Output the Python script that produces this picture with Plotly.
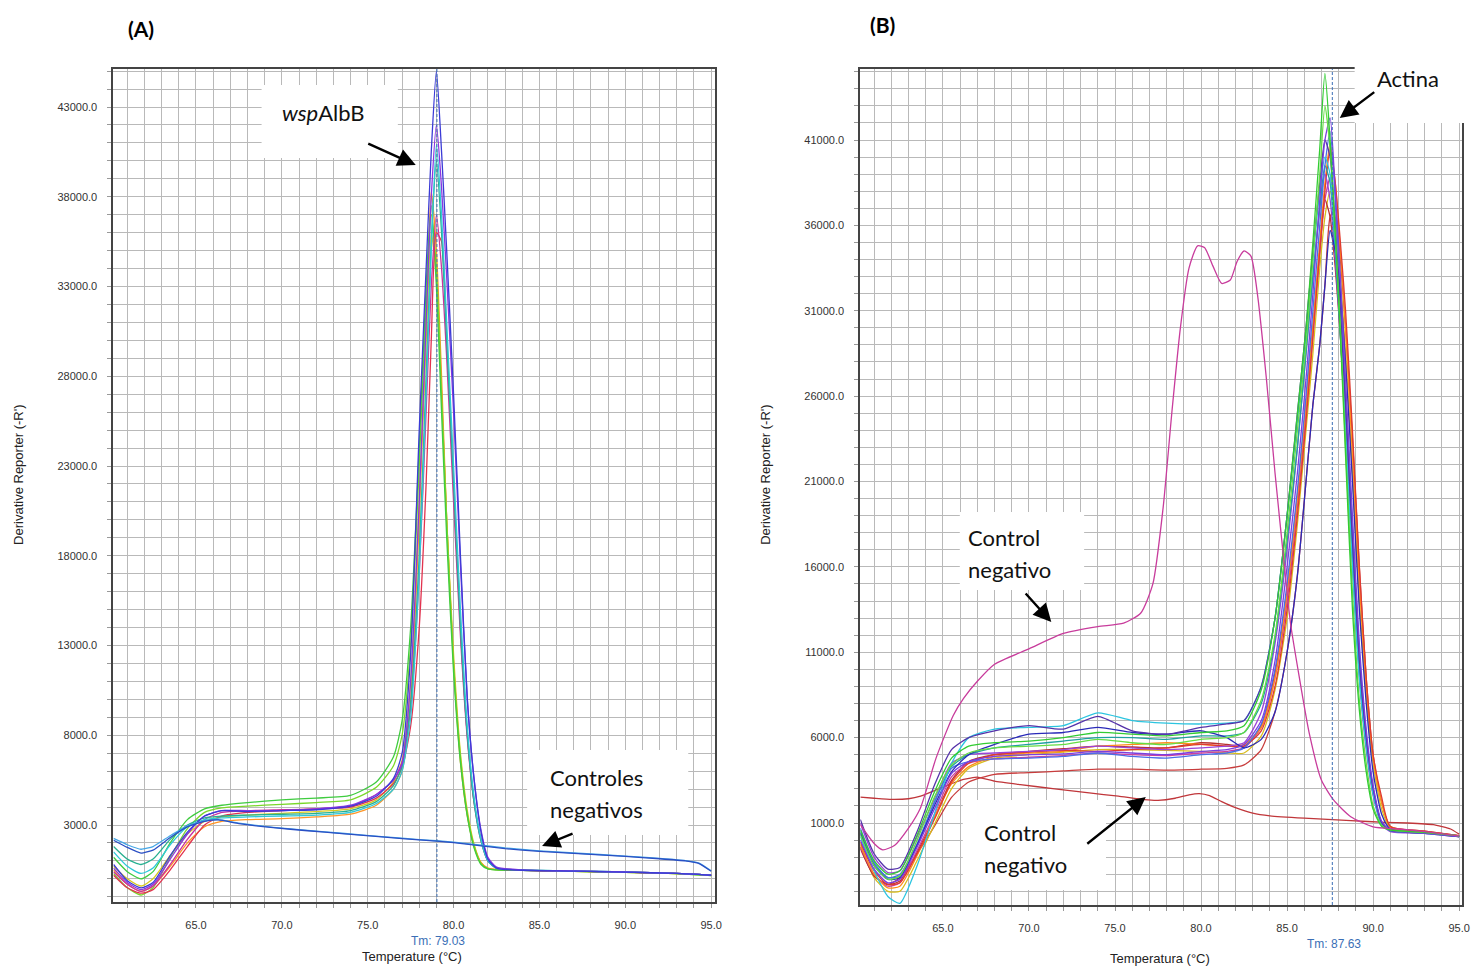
import plotly.graph_objects as go

W, H = 1483, 967

# ---------------- Panel A data (temperature grid, derivative values) ----------------
TEMP_A = [60.2, 61, 61.8, 62.5, 63.5, 64.5, 65.5, 66.5, 68, 70, 72, 74, 75.5, 76.5, 77.0, 77.5,
          78.0, 78.4, 78.7, 79.0, 79.3, 79.6, 80.0, 80.4, 80.8, 81.2, 81.6, 82.0, 82.5, 84, 87, 90, 93, 95]

A_YELLOW = [700, 0, -400, 0, 1300, 2500, 3200, 3450, 3550, 3650, 3750, 3900, 4400, 5400, 6600, 11000,
            21000, 30000, 36000, 33500, 27000, 20000, 12500, 7000, 3800, 1900, 900, 580, 520, 470, 420, 360, 290, 190]
A_ORANGE = [500, -300, -700, -400, 700, 2000, 2900, 3200, 3300, 3350, 3450, 3600, 4100, 5000, 6000, 10000,
            20000, 31000, 38300, 35000, 28000, 20000, 12000, 6500, 3500, 1800, 900, 600, 520, 470, 420, 360, 290, 190]
A_LIME = [300, -500, -900, -500, 1200, 2800, 3700, 3950, 4050, 4150, 4250, 4400, 5100, 6300, 8000, 13000,
          23000, 32000, 37000, 34000, 27000, 20000, 12000, 6800, 3600, 1800, 850, 560, 500, 470, 420, 360, 290, 180]
A_GREEN = [1200, 400, 0, 400, 2000, 3300, 3900, 4100, 4250, 4400, 4500, 4650, 5400, 6800, 8800, 14000,
           24000, 33000, 37500, 33000, 26000, 19000, 11500, 6500, 3500, 1700, 800, 550, 500, 470, 420, 360, 290, 180]
A_RED = [200, -500, -800, -600, 500, 1800, 3000, 3500, 3700, 3800, 3900, 4000, 4500, 5300, 6200, 8500,
         14000, 22000, 30000, 36000, 35500, 30000, 22000, 14000, 8000, 4300, 2200, 1000, 600, 490, 430, 370, 300, 200]
A_MAGENTA = [400, -300, -700, -400, 800, 2200, 3300, 3700, 3800, 3850, 3900, 4050, 4700, 5500, 6500, 9500,
             17000, 26000, 33000, 37000, 34000, 29000, 21000, 13500, 7800, 4200, 2100, 1000, 600, 490, 430, 370, 300, 200]
A_TEAL = [1800, 1100, 800, 1100, 2200, 3000, 3400, 3500, 3550, 3600, 3650, 3800, 4300, 5200, 6300, 9800,
          18000, 28000, 35500, 40000, 36000, 30000, 22000, 14000, 8000, 4200, 2100, 1000, 600, 500, 440, 380, 310, 210]
A_CYAN = [1500, 700, 300, 600, 1900, 2900, 3300, 3400, 3450, 3500, 3550, 3700, 4200, 5000, 6000, 9000,
          17000, 27000, 35000, 40900, 37000, 31000, 23000, 15000, 8500, 4500, 2200, 1000, 600, 500, 440, 380, 310, 210]
A_PURPLE = [600, -200, -600, -300, 1100, 2500, 3500, 3800, 3800, 3800, 3900, 4100, 4700, 5500, 6400, 11000,
            21000, 31000, 38000, 42000, 38500, 33500, 26000, 17500, 10000, 5500, 2700, 1200, 650, 500, 440, 380, 310, 210]
A_BLUE = [800, -100, -500, -200, 1300, 2600, 3500, 3800, 3750, 3800, 3850, 4050, 4600, 5600, 7000, 12500,
          25000, 34000, 40500, 45000, 40500, 35000, 27000, 18000, 10000, 5500, 2600, 1100, 600, 480, 430, 370, 300, 200]

TEMP_A_NEG = [60.2, 61, 61.8, 62.5, 63.5, 64.5, 65.5, 66.3, 67.5, 69.5, 71.5, 73.5, 76, 78, 80, 83, 85,
              87, 90, 92, 93.5, 94.3, 95]
A_NEG_1 = [2150, 1750, 1430, 1600, 2300, 2900, 3200, 3280, 3080, 2850, 2680, 2520, 2320, 2170, 2020, 1680,
           1530, 1420, 1250, 1120, 1000, 850, 420]
A_NEG_2 = [2250, 1900, 1650, 1800, 2400, 2950, 3230, 3300, 3100, 2870, 2700, 2540, 2340, 2190, 2050, 1720,
           1560, 1440, 1270, 1140, 1020, 880, 450]

TM_A = 79.03

# ---------------- Panel B data ----------------
TEMP_B = [60.2, 61, 61.8, 62.5, 63.5, 64.5, 65.5, 66.5, 68, 70, 72, 74, 76, 78, 80, 81.5, 82.5, 83.5,
          84.3, 85, 85.6, 86.1, 86.5, 86.9, 87.2, 87.5, 87.8, 88.1, 88.4, 88.8, 89.2, 89.6, 90.0, 90.5, 91, 93, 95]

B_REDLOW = [-400, -2100, -2600, -2200, -800, 800, 2500, 3400, 3850, 3950, 4050, 4150, 4150, 4100, 4150, 4200, 4400, 5300,
            7500, 11000, 15500, 21000, 25500, 29000, 32500, 36500, 37000, 34000, 30000, 23500, 16000, 9500, 5000, 2200, 800, 520, 260]
B_YELLOW = [-200, -2200, -3000, -3000, -1200, 900, 3000, 4200, 4800, 5000, 5150, 5300, 5300, 5250, 5200, 5100, 5100, 6100,
            8800, 13000, 18500, 24000, 28500, 33500, 36500, 38000, 36500, 33000, 28500, 21500, 14000, 8500, 4500, 1800, 700, 480, 240]
B_DARKRED = [-500, -2100, -2600, -2400, -700, 1300, 3500, 4600, 5000, 5200, 5350, 5500, 5450, 5400, 5700, 5600, 5500, 6700,
             9800, 14500, 20000, 25500, 30000, 34500, 37500, 36500, 33500, 29500, 24500, 17000, 10000, 5800, 2900, 1000, 550, 420, 220]
B_MAGENTA = [-400, -2000, -2700, -2500, -600, 1500, 3700, 4500, 4750, 4850, 4950, 5100, 5000, 4950, 5100, 5200, 5400, 6600,
             9500, 14000, 19500, 25000, 29500, 34500, 37500, 38800, 35500, 31000, 25500, 17500, 10500, 6000, 3000, 1000, 550, 400, 200]
B_ORANGE = [-300, -2000, -2800, -2700, -900, 1300, 3300, 4300, 4900, 5100, 5200, 5500, 5600, 5700, 5600, 5500, 5600, 6600,
            9500, 14500, 20000, 25500, 30000, 35000, 38500, 40800, 38500, 34500, 30000, 22500, 15000, 9000, 4800, 2200, 800, 500, 250]
B_RED = [-100, -1800, -2600, -2500, -800, 1200, 3400, 4500, 5000, 5150, 5250, 5200, 5300, 5400, 5600, 5500, 5500, 6400,
         9000, 13500, 19000, 24500, 29500, 34500, 38000, 40500, 38500, 35000, 31000, 24000, 16000, 9500, 5000, 2500, 800, 520, 260]
B_PURPLE2 = [1000, -1000, -1900, -1800, 200, 2400, 4500, 5000, 5100, 5200, 5300, 5500, 5400, 5300, 5400, 5500, 5700, 7500,
             11500, 17000, 23000, 28500, 33000, 37000, 39000, 37500, 34000, 29500, 24000, 16000, 9500, 5300, 2600, 900, 500, 400, 200]
B_TEAL = [500, -1400, -2200, -2100, -300, 2200, 4300, 5000, 5400, 5600, 5800, 6000, 6000, 5900, 6100, 6100, 6300, 8000,
          11800, 17500, 23000, 28500, 33000, 37000, 39500, 38500, 34500, 29500, 24000, 16500, 9800, 5600, 2800, 1000, 550, 420, 210]
B_BLUE = [700, -1300, -2200, -2000, -200, 2200, 4200, 4600, 4750, 4800, 4900, 5100, 4900, 4800, 5000, 5100, 5400, 6800,
          10000, 15000, 20500, 26000, 31000, 36000, 39500, 41500, 37500, 32000, 26000, 18000, 11000, 6200, 3000, 1000, 550, 400, 200]
B_DARKBLUE = [400, -1500, -2300, -2200, -300, 2000, 4000, 5000, 5600, 6200, 6300, 6600, 6300, 6200, 6400, 6000, 5400, 5900,
              7500, 11000, 15500, 21000, 25500, 29000, 32500, 35700, 34500, 32000, 28000, 21000, 13500, 8000, 4000, 1500, 650, 450, 220]
B_CYAN = [200, -1800, -3300, -3700, -1500, 1500, 4500, 6000, 6500, 6600, 6700, 7450, 7000, 6850, 6800, 6850, 7000, 9000,
          13000, 19000, 24500, 29500, 34000, 38000, 40000, 39000, 35000, 30000, 24000, 16000, 9500, 5500, 2700, 950, 550, 420, 210]
B_INDIGO = [1200, -800, -1700, -1600, 500, 3200, 5300, 6000, 6400, 6700, 6500, 7250, 6400, 6200, 6600, 6800, 7000, 9000,
            13000, 19000, 25000, 30000, 34500, 38500, 41000, 40000, 36000, 31000, 25500, 17500, 10500, 6000, 3000, 1000, 550, 420, 200]
B_PURPLE = [0, -1700, -2500, -2300, -400, 1800, 3900, 4600, 4900, 5000, 5050, 5200, 5100, 5000, 5200, 5300, 5600, 7000,
            10500, 16000, 21500, 27000, 32000, 37500, 41000, 42300, 38000, 33000, 27000, 19000, 11500, 6500, 3200, 1100, 600, 420, 200]
B_LIME = [300, -1500, -2300, -2100, 0, 2500, 4400, 5100, 5400, 5500, 5600, 5900, 5700, 5600, 5900, 6000, 6300, 8200,
          12000, 18000, 24000, 29000, 34000, 39000, 43000, 40500, 35500, 30000, 23000, 14500, 8200, 4500, 2000, 850, 600, 450, 250]
B_GREEN = [600, -1200, -2000, -1800, 300, 2800, 4800, 5500, 5700, 5800, 6000, 6300, 6200, 6100, 6300, 6400, 6700, 8800,
           13000, 19000, 25000, 30000, 35000, 40500, 44900, 41000, 35500, 29500, 22500, 13500, 7600, 4000, 1800, 800, 600, 450, 250]

TEMP_B_CTRL1 = [60.2, 61, 61.5, 62.2, 63, 63.7, 64.6, 65.6, 66.2, 67, 68, 70, 72, 74, 75.5, 76.5, 77.2, 77.8, 78.3,
                78.8, 79.3, 79.8, 80.2, 80.7, 81.2, 81.7, 82.1, 82.5, 82.9, 83.3, 83.8, 84.3, 84.8, 85.2, 85.7,
                86.3, 87.0, 87.7, 88.7, 90.0, 91.5, 93, 95]
B_CTRL_1 = [900, -200, -570, -300, 700, 1900, 4800, 7300, 8300, 9300, 10300, 11200, 12100, 12500, 12700, 13300,
            15000, 19500, 25000, 30000, 33500, 34800, 34700, 33600, 32600, 32800, 33900, 34500, 34200, 31800,
            27000, 21500, 16500, 12700, 9600, 6200, 3500, 2350, 1370, 780, 650, 500, 250]

TEMP_B_CTRL2 = [60.2, 61, 62, 63, 63.7, 65, 66.2, 67, 68, 69.5, 71.5, 73.5, 75.2, 76.7, 77.5, 78.5, 79.3,
                79.9, 80.5, 81.2, 82, 83, 84, 86, 88.7, 90.7, 92, 93.5, 94.5, 95]
B_CTRL_2 = [2510, 2450, 2380, 2420, 2570, 3100, 3550, 3690, 3450, 3250, 3000, 2760, 2570, 2370, 2330, 2450, 2650,
            2720, 2600, 2250, 1900, 1580, 1420, 1280, 1140, 1040, 1000, 900, 650, 350]

TM_B = 87.63

# ---------------- styling ----------------
SERIES_A = [
    (A_YELLOW, '#d6c91e'), (A_ORANGE, '#ff9526'), (A_LIME, '#7ad82a'), (A_GREEN, '#3fcc3f'),
    (A_RED, '#e2334f'), (A_MAGENTA, '#c9329e'), (A_TEAL, '#28b090'), (A_CYAN, '#2ec8d8'),
    (A_PURPLE, '#8b35e0'), (A_BLUE, '#3b3bd6'),
]
NEG_A = [(A_NEG_2, '#45a6e6'), (A_NEG_1, '#2a4fc4')]

SERIES_B = [
    (B_REDLOW, '#c83c3c'), (B_YELLOW, '#d8bc1c'), (B_DARKRED, '#b83030'), (B_MAGENTA, '#cc3fa0'),
    (B_ORANGE, '#ff8c1a'), (B_RED, '#e03a30'), (B_PURPLE2, '#9a44d8'), (B_TEAL, '#20a0a0'),
    (B_BLUE, '#4a6ee8'), (B_DARKBLUE, '#2a2ab8'), (B_CYAN, '#2cc5e0'), (B_INDIGO, '#5533aa'),
    (B_PURPLE, '#7b3fe0'), (B_LIME, '#66dd44'), (B_GREEN, '#33cc33'),
]

fig = go.Figure()


def add_line(x, y, color, xa, ya, smooth=0.6):
    fig.add_trace(go.Scatter(x=x, y=y, mode='lines', xaxis=xa, yaxis=ya, showlegend=False,
                             hoverinfo='skip',
                             line=dict(color=color, width=1.3, shape='spline', smoothing=smooth)))


for ys, col in SERIES_A:
    add_line(TEMP_A, ys, col, 'x', 'y')
for ys, col in NEG_A:
    add_line(TEMP_A_NEG, ys, col, 'x', 'y', 0.4)
add_line(TEMP_B_CTRL2, B_CTRL_2, '#c0363a', 'x2', 'y2', 0.4)
for ys, col in SERIES_B:
    add_line(TEMP_B, ys, col, 'x2', 'y2')
add_line(TEMP_B_CTRL1, B_CTRL_1, '#c83c9c', 'x2', 'y2')


def px(x):
    return x / W


def py(y):
    return 1 - y / H


GRID = '#b9b9b9'
TICKFONT = dict(family='Liberation Sans', size=11, color='#333333')


def xaxis(domain, rng, anchor):
    return dict(domain=domain, range=rng, anchor=anchor, tick0=65, dtick=5, tickformat='.1f',
                showgrid=True, gridcolor=GRID, gridwidth=1, zeroline=False,
                ticks='outside', ticklen=4, tickcolor='#999999', ticklabelstandoff=8,
                minor=dict(dtick=1, showgrid=True, gridcolor=GRID, gridwidth=1,
                           ticks='outside', ticklen=4, tickcolor='#999999'),
                showline=True, linecolor='#444444', linewidth=2, mirror=True,
                tickfont=TICKFONT, fixedrange=True)


def yaxis(domain, rng, anchor, tick0):
    return dict(domain=domain, range=rng, anchor=anchor, tick0=tick0, dtick=5000, tickformat='.1f',
                showgrid=True, gridcolor=GRID, gridwidth=1, zeroline=False,
                ticks='outside', ticklen=4, tickcolor='#999999', ticklabelstandoff=8,
                minor=dict(dtick=1000, showgrid=True, gridcolor=GRID, gridwidth=1,
                           ticks='outside', ticklen=4, tickcolor='#999999'),
                showline=True, linecolor='#444444', linewidth=2, mirror=True,
                tickfont=TICKFONT, fixedrange=True)


fig.update_layout(
    width=W, height=H, autosize=False, margin=dict(l=0, r=0, t=0, b=0),
    paper_bgcolor='white', plot_bgcolor='white',
    xaxis=xaxis([px(114), px(719)], [60.19, 95.23], 'y'),
    yaxis=yaxis([py(902), py(69)], [-1290, 45117], 'x', 3000),
    xaxis2=xaxis([px(865), px(1470)], [60.2, 95.17], 'y2'),
    yaxis2=yaxis([py(905), py(69)], [-3802, 45158], 'x2', 1000),
)

shapes = []
# Tm dashed lines
for xr, yr, tm in (('x', 'y domain', TM_A), ('x2', 'y2 domain', TM_B)):
    shapes.append(dict(type='line', xref=xr, yref=yr, x0=tm, x1=tm, y0=0, y1=1, layer='above',
                       line=dict(color='#3b6fb6', width=1, dash='3px,2px')))
# white label boxes
for (x0, y0, x1, y1) in [(263, 85, 400, 158), (530, 750, 692, 835), (965, 512, 1090, 590),
                         (968, 800, 1112, 890), (1362, 58, 1483, 123)]:
    shapes.append(dict(type='rect', xref='paper', yref='paper', x0=px(x0), x1=px(x1),
                       y0=py(y1), y1=py(y0), fillcolor='white', line=dict(width=0), layer='above'))
fig.update_layout(shapes=shapes)

ann = []
LBL = dict(family='Lato', size=22, color='#111111')


def text(x, y, s, font, xanchor='left', angle=0):
    ann.append(dict(xref='paper', yref='paper', x=px(x), y=py(y), text=s, showarrow=False,
                    xanchor=xanchor, yanchor='middle', font=font, textangle=angle))


def arrow(hx, hy, tx, ty):
    ann.append(dict(xref='paper', yref='paper', x=px(hx), y=py(hy), ax=tx - hx, ay=ty - hy,
                    text='', showarrow=True, arrowhead=2, arrowsize=1.5, arrowwidth=2.4,
                    arrowcolor='black', standoff=0, startstandoff=0))


text(142, 28, '<b>(A)</b>', dict(family='Lato', size=21, color='black'), 'center')
text(887, 24, '<b>(B)</b>', dict(family='Lato', size=21, color='black'), 'center')

text(282, 112, '<i>wsp</i>AlbB', LBL)
text(551, 777, 'Controles', LBL)
text(551, 809, 'negativos', LBL)
text(971, 537, 'Control', LBL)
text(971, 569, 'negativo', LBL)
text(987, 832, 'Control', LBL)
text(987, 864, 'negativo', LBL)
text(1382, 78, 'Actina', LBL)

arrow(418, 165, 369, 143)
arrow(545, 846, 577, 833)
arrow(1057, 622, 1030, 592)
arrow(1152, 797, 1092, 845)
arrow(1347, 118, 1383, 91)

AX = dict(family='Liberation Sans', size=13, color='#222222')
text(18, 475, "Derivative Reporter (-R')", AX, 'center', -90)
text(769, 475, "Derivative Reporter (-R')", AX, 'center', -90)
text(414, 956, 'Temperature (°C)', AX, 'center')
text(1166, 958, 'Temperatura (°C)', AX, 'center')
TMF = dict(family='Liberation Sans', size=12, color='#3b6fb6')
text(440, 941, 'Tm: 79.03', TMF, 'center')
text(1341, 944, 'Tm: 87.63', TMF, 'center')

fig.update_layout(annotations=ann)

# remove the default 8px page margin so the figure fills the window exactly
fig.write_html('out.html', config={'displayModeBar': False, 'staticPlot': True},
               post_script="document.body.style.margin='0px';document.body.style.overflow='hidden';")
